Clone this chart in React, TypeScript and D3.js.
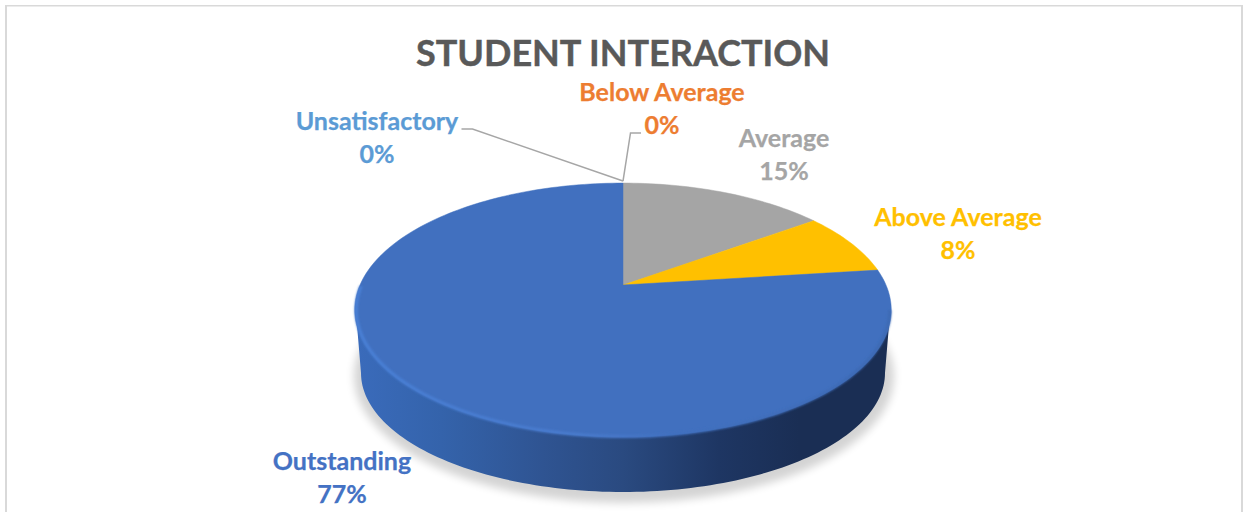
import React from "react";
import * as d3 from "d3";

const categories = ["Unsatisfactory", "Below Average", "Average", "Above Average", "Outstanding"];
const values = [0, 0, 15, 8, 77];
const labelText = ["0%", "0%", "15%", "8%", "77%"];
const sliceColors = ["#5b9bd5", "#ed7d31", "#a5a5a5", "#ffc000", "#4170bf"];
const textColors = ["#5b9bd5", "#ed7d31", "#a5a5a5", "#ffc000", "#4472c4"];
const labelX = [377, 662, 784, 958, 342];
const labelY = [130, 101, 147, 226, 470];
const title = "STUDENT INTERACTION";

const W = 1243, H = 512;
const cx = 623, cy = 285, sx = 263, sy = 122, k = 0.197;
const sideCy = 373, sideRx = 262, sideRy = 119;
const FONT = "Lato, Carlito, Calibri, sans-serif";

// perspective projection of the pie's unit circle onto the picture
const project = (a: number): [number, number] => {
  const u = Math.sin(a), v = Math.cos(a), w = 1 + k * v;
  return [cx + (sx * u) / w, cy - (sy * v) / w];
};
const sampled = (a0: number, a1: number): [number, number][] => {
  const n = Math.max(2, Math.ceil(Math.abs(a1 - a0) * 40));
  return d3.range(n + 1).map((i) => project(a0 + ((a1 - a0) * i) / n));
};
const line = d3.line();

const pie = d3.pie<number>().value((d) => d).sort(null);
const arcs = pie(values);

const faceCy = cy + (sy * k) / (1 - k * k);
const faceRx = sx / Math.sqrt(1 - k * k);
const faceRy = sy / (1 - k * k);

const halfEllipse = (ecx: number, ecy: number, rx: number, ry: number, from: number, to: number) => {
  const n = 120;
  return d3.range(n + 1).map((i): [number, number] => {
    const t = from + ((to - from) * i) / n;
    return [ecx + rx * Math.cos(t), ecy + ry * Math.sin(t)];
  });
};

const sidePts = [
  ...halfEllipse(cx, faceCy, faceRx - 1, faceRy - 1, Math.PI, 0),
  ...halfEllipse(cx, sideCy, sideRx, sideRy, 0, Math.PI),
];
const rimPts = halfEllipse(cx, faceCy, faceRx - 1.5, faceRy - 0.5, Math.PI * 1.06, 0);

const sideStops: [number, string][] = [
  [0, "#3a6bbb"], [0.16, "#3463ab"], [0.35, "#2f5492"], [0.5, "#2a4a80"], [0.68, "#1e3663"], [0.83, "#1a2e54"], [1, "#1a2e54"],
];

export default function App() {
  return (
    <svg width={W} height={H} viewBox={`0 0 ${W} ${H}`} style={{ position: "absolute", left: 0, top: 0, display: "block", background: "#fff" }}>
      <defs>
        <linearGradient id="side" x1="0" x2="1" y1="0" y2="0">
          {sideStops.map(([o, c]) => <stop key={o} offset={o} stopColor={c} />)}
        </linearGradient>
        <linearGradient id="rim" gradientUnits="userSpaceOnUse" x1={cx - faceRx} x2={cx + faceRx} y1="0" y2="0">
          <stop offset="0" stopColor="#4a80d6" />
          <stop offset="0.4" stopColor="#4a7cce" />
          <stop offset="0.6" stopColor="#4170bf" />
          <stop offset="1" stopColor="#3d6ab4" />
        </linearGradient>
        <filter id="soft" x="-10%" y="-10%" width="120%" height="120%"><feGaussianBlur stdDeviation="4" /></filter>
        <filter id="rimBlur" x="-5%" y="-5%" width="110%" height="110%"><feGaussianBlur stdDeviation="1" /></filter>
      </defs>

      <rect x={0} y={0} width={W} height={H} fill="#ffffff" />
      <rect x={5} y={5} width={2} height={H - 5} fill="#d9d9d9" />
      <rect x={5} y={5} width={1237} height={1.5} fill="#d9d9d9" />
      <rect x={1241} y={5} width={2} height={H - 5} fill="#d9d9d9" />

      <text x={623} y={66} textAnchor="middle" fontFamily={FONT} fontWeight={700} fontSize={36} fill="#595959" stroke="#595959" strokeWidth={0.4}>{title}</text>

      {/* shadow, side wall */}
      <ellipse cx={cx + 1} cy={sideCy + 3} rx={sideRx + 8} ry={sideRy + 8} fill="#000" opacity={0.17} filter="url(#soft)" />
      <path d={line(sidePts) + "Z"} fill="url(#side)" />

      {/* top face */}
      {arcs.map((a, i) =>
        a.endAngle > a.startAngle ? (
          <path key={categories[i]} d={line([[cx, cy], ...sampled(a.startAngle, a.endAngle)]) + "Z"} fill={sliceColors[i]} stroke={sliceColors[i]} strokeWidth={0.5} />
        ) : null
      )}
      <path d={line(rimPts) ?? ""} fill="none" stroke="url(#rim)" strokeWidth={3.2} filter="url(#rimBlur)" />

      {/* leader lines, anchored on the pie's zero-angle point */}
      <path d={line([[461.5, 129], [472.5, 129], [project(0)[0], project(0)[1] - 2]]) ?? ""} fill="none" stroke="#a6a6a6" strokeWidth={1.5} />
      <path d={line([[641, 133], [630.5, 133], [project(0)[0], project(0)[1] - 2]]) ?? ""} fill="none" stroke="#a6a6a6" strokeWidth={1.5} />

      {categories.map((c, i) => (
        <g key={c} fontFamily={FONT} fontWeight={700} fontSize={25} fill={textColors[i]} stroke={textColors[i]} strokeWidth={0.25} textAnchor="middle">
          <text x={labelX[i]} y={labelY[i]}>{c}</text>
          <text x={labelX[i]} y={labelY[i] + 32.5}>{labelText[i]}</text>
        </g>
      ))}
    </svg>
  );
}
